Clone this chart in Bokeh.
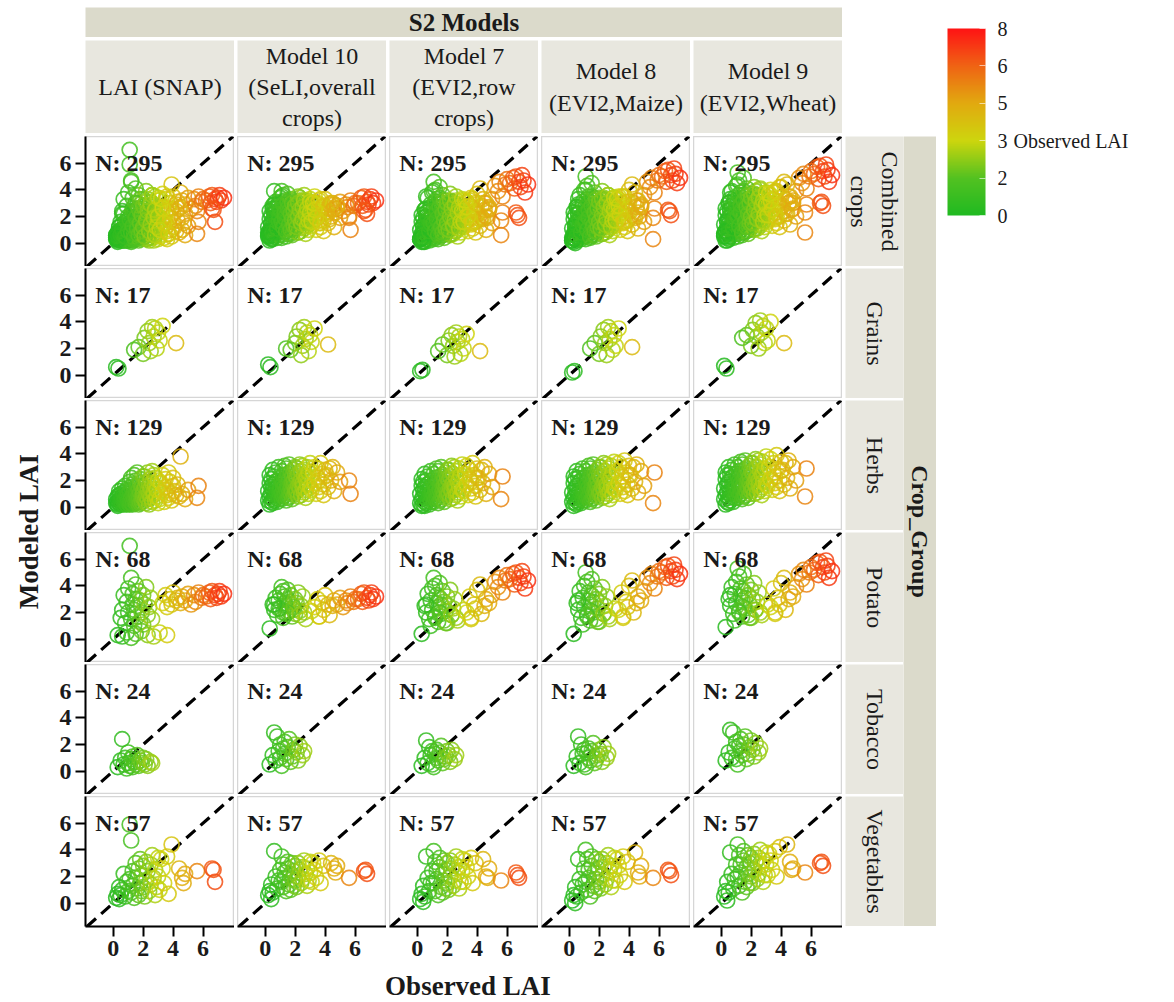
import numpy as np
from math import pi
from bokeh.plotting import figure
from bokeh.layouts import row, column
from bokeh.models import (Range1d, FixedTicker, Slope, ColumnDataSource, LinearColorMapper,
                          ColorBar, Spacer, PrintfTickFormatter)
from bokeh.transform import transform
from bokeh.core.properties import value
from bokeh.embed import file_html
from bokeh.resources import INLINE

# ---------------- data ----------------
model_titles = ["LAI (SNAP)", "Model 10\n(SeLI,overall\ncrops)", "Model 7\n(EVI2,row\ncrops)",
                "Model 8\n(EVI2,Maize)", "Model 9\n(EVI2,Wheat)"]
model_keys = ["snap", "m10", "m7", "m8", "m9"]
groups = ["Grains", "Herbs", "Potato", "Tobacco", "Vegetables"]
row_labels = ["Combined\ncrops", "Grains", "Herbs", "Potato", "Tobacco", "Vegetables"]
cbar_ticks = [0, 1.6, 3.2, 4.8, 6.4, 8]

# Grains (observed / modeled per model)
grains_obs = [0.2, 0.35, 1.4, 1.7, 2.0, 2.1, 2.3, 2.4, 2.5, 2.6, 2.7, 2.8, 2.9, 3.0, 3.1, 3.3, 4.2]
grains_snap = [0.6, 0.5, 1.9, 2.1, 1.6, 2.8, 3.3, 2.4, 1.8, 3.6, 2.9, 3.5, 2.0, 3.2, 2.6, 3.7, 2.4]
grains_m10 = [0.8, 0.6, 2.0, 1.9, 2.4, 2.9, 3.4, 1.5, 2.2, 3.6, 2.7, 3.2, 1.8, 3.0, 2.5, 3.5, 2.3]
grains_m7 = [0.3, 0.4, 1.8, 2.3, 1.5, 2.6, 3.0, 2.2, 1.4, 3.2, 2.5, 2.9, 1.6, 2.7, 2.0, 3.1, 1.8]
grains_m8 = [0.2, 0.3, 2.0, 2.4, 1.6, 2.9, 3.4, 2.4, 1.5, 3.6, 2.7, 3.3, 1.9, 3.0, 2.2, 3.5, 2.1]
grains_m9 = [0.7, 0.5, 2.8, 3.0, 2.2, 3.4, 3.9, 2.9, 2.0, 4.1, 3.2, 3.7, 2.4, 3.5, 2.6, 4.0, 2.4]

# Herbs
herbs_obs = [0.2, 0.2, 0.3, 0.3, 0.3, 0.3, 0.4, 0.4, 0.4, 0.4, 0.5, 0.5, 0.5, 0.5, 0.5, 0.6, 0.6, 0.6,
             0.6, 0.7, 0.7, 0.7, 0.7, 0.8, 0.8, 0.8, 0.8, 0.9, 0.9, 0.9, 0.9, 1.0, 1.0, 1.0, 1.0,
             1.1, 1.1, 1.1, 1.1, 1.2, 1.2, 1.2, 1.2, 1.3, 1.3, 1.3, 1.3, 1.4, 1.4, 1.4, 1.4,
             1.5, 1.5, 1.5, 1.5, 1.6, 1.6, 1.6, 1.6, 1.7, 1.7, 1.7, 1.7, 1.8, 1.8, 1.8, 1.8,
             1.9, 1.9, 1.9, 1.9, 2.0, 2.0, 2.0, 2.0,
             2.1, 2.1, 2.1, 2.2, 2.2, 2.2, 2.3, 2.3, 2.3, 2.4, 2.4, 2.4, 2.5, 2.5, 2.5, 2.6, 2.6, 2.6,
             2.7, 2.7, 2.7, 2.8, 2.8, 2.8, 2.9, 2.9, 3.0, 3.0,
             3.1, 3.2, 3.3, 3.3, 3.4, 3.5, 3.5, 3.6, 3.6, 3.7, 3.7, 3.8, 3.9, 3.9, 4.0, 4.0,
             4.1, 4.2, 4.3, 4.4, 4.5, 4.6, 4.8, 5.0, 5.6, 5.7]
herbs_snap = [0.3, 0.6, 0.1, 0.4, 0.8, 0.2, 0.5, 0.9, 0.3, 1.2, 0.4, 0.7, 0.2, 1.0, 0.5, 0.3, 0.8, 1.4,
              0.6, 0.2, 0.9, 0.4, 1.1, 0.5, 0.3, 0.7, 1.6, 0.4, 0.8, 0.2, 1.3, 0.6, 0.3, 1.0, 0.5,
              0.4, 1.2, 0.2, 1.9, 0.7, 1.5, 0.3, 2.2, 0.9, 0.5, 1.7, 0.2, 1.1, 2.4, 0.6, 1.4, 0.3,
              0.8, 2.0, 1.0, 0.4, 1.6, 0.7, 2.6, 0.2, 1.3, 0.9, 0.5, 1.8, 1.1, 0.3, 2.1, 0.6, 1.5,
              0.8, 0.4, 1.2, 2.3, 0.7, 1.0,
              0.5, 1.5, 2.3, 0.8, 1.9, 0.3, 1.2, 2.6, 0.6, 1.7, 0.2, 1.0, 2.1, 0.7, 1.4, 2.7, 0.4,
              1.8, 0.9, 2.4, 1.1, 0.5, 1.6, 2.2, 0.8, 1.3, 0.3, 2.0,
              0.6, 1.8, 1.1, 2.4, 0.4, 1.5, 2.1, 0.9, 1.3, 2.6, 0.7, 1.9, 1.0, 0.5, 1.6, 2.2,
              1.2, 0.9, 1.7, 0.8, 3.8, 1.0, 0.6, 1.3, 0.7, 1.6]
herbs_m10 = [0.5, 1.2, 0.2, 1.8, 0.8, 2.4, 0.4, 1.5, 1.0, 2.1, 0.6, 1.3, 2.8, 0.3, 1.7, 0.9, 2.3, 1.1,
             0.5, 1.9, 1.4, 0.7, 2.6, 1.0, 0.4, 1.6, 2.0, 0.8, 1.2, 3.0, 0.6, 1.5, 2.2, 0.9, 1.3,
             1.0, 2.0, 0.6, 2.7, 1.4, 1.8, 0.8, 2.4, 1.2, 3.1, 0.9, 1.6, 2.2, 0.5, 2.9, 1.3, 1.9,
             0.7, 2.5, 1.5, 1.1, 2.1, 0.8, 3.2, 1.7, 1.0, 2.6, 1.4, 0.6, 2.3, 1.8, 1.2, 2.8, 0.9,
             1.6, 2.0, 1.3, 3.0, 1.1, 2.4,
             1.2, 2.2, 2.9, 1.6, 0.8, 2.5, 1.9, 3.2, 1.4, 2.0, 0.9, 2.7, 1.5, 3.1, 1.8, 1.1, 2.4,
             2.8, 1.3, 2.1, 0.7, 1.7, 3.0, 2.3, 1.0, 2.6, 1.5, 3.3,
             1.3, 2.6, 1.8, 3.0, 1.0, 2.2, 2.9, 1.5, 2.0, 3.3, 1.2, 2.5, 1.7, 0.9, 2.3, 2.8,
             2.4, 1.5, 2.9, 2.0, 3.0, 1.2, 2.6, 1.9, 2.0, 1.0]
herbs_m7 = [0.3, 1.0, 0.1, 1.6, 0.6, 2.1, 0.2, 1.3, 0.8, 1.9, 0.4, 1.1, 2.5, 0.1, 1.5, 0.7, 2.0, 0.9,
            0.3, 1.7, 1.2, 0.5, 2.3, 0.8, 0.2, 1.4, 1.8, 0.6, 1.0, 2.7, 0.4, 1.3, 2.0, 0.7, 1.1,
            0.8, 1.8, 0.4, 2.5, 1.2, 1.6, 0.6, 2.2, 1.0, 2.9, 0.7, 1.4, 2.0, 0.3, 2.7, 1.1, 1.7,
            0.5, 2.3, 1.3, 0.9, 1.9, 0.6, 3.0, 1.5, 0.8, 2.4, 1.2, 0.4, 2.1, 1.6, 1.0, 2.6, 0.7,
            1.4, 1.8, 1.1, 2.8, 0.9, 2.2,
            1.0, 2.0, 2.8, 1.4, 0.6, 2.3, 1.7, 3.1, 1.2, 1.8, 0.7, 2.5, 1.3, 3.0, 1.6, 0.9, 2.2,
            2.7, 1.1, 1.9, 0.5, 1.5, 2.9, 2.1, 0.8, 2.4, 1.3, 3.2,
            1.2, 2.5, 1.7, 3.1, 0.9, 2.1, 2.8, 1.4, 1.9, 3.3, 1.1, 2.4, 1.6, 0.8, 2.2, 2.9,
            2.2, 1.3, 2.8, 1.8, 3.0, 1.0, 2.5, 1.5, 0.6, 2.3]
herbs_m8 = [0.4, 1.1, 0.1, 1.8, 0.7, 2.3, 0.3, 1.4, 0.9, 2.1, 0.5, 1.2, 2.7, 0.2, 1.6, 0.8, 2.2, 1.0,
            0.4, 1.9, 1.3, 0.6, 2.5, 0.9, 0.3, 1.5, 2.0, 0.7, 1.1, 2.9, 0.5, 1.4, 2.2, 0.8, 1.2,
            0.9, 2.0, 0.5, 2.7, 1.3, 1.7, 0.7, 2.4, 1.1, 3.1, 0.8, 1.5, 2.2, 0.4, 2.9, 1.2, 1.8,
            0.6, 2.5, 1.4, 1.0, 2.1, 0.7, 3.2, 1.6, 0.9, 2.6, 1.3, 0.5, 2.3, 1.7, 1.1, 2.8, 0.8,
            1.5, 2.0, 1.2, 3.0, 1.0, 2.4,
            1.1, 2.2, 3.0, 1.5, 0.7, 2.5, 1.8, 3.3, 1.3, 2.0, 0.8, 2.7, 1.4, 3.2, 1.7, 1.0, 2.4,
            2.9, 1.2, 2.1, 0.6, 1.6, 3.1, 2.3, 0.9, 2.6, 1.4, 3.4,
            1.3, 2.7, 1.8, 3.3, 1.0, 2.3, 3.0, 1.5, 2.0, 3.5, 1.2, 2.6, 1.7, 0.9, 2.4, 3.1,
            2.4, 1.4, 3.0, 1.9, 3.2, 1.1, 2.7, 1.6, 0.3, 2.6]
herbs_m9 = [0.6, 1.4, 0.2, 2.1, 0.9, 2.6, 0.4, 1.7, 1.1, 2.4, 0.7, 1.5, 3.0, 0.3, 1.9, 1.0, 2.5, 1.2,
            0.5, 2.2, 1.6, 0.8, 2.8, 1.1, 0.4, 1.8, 2.3, 0.9, 1.4, 3.2, 0.7, 1.7, 2.5, 1.0, 1.5,
            1.2, 2.3, 0.7, 3.0, 1.6, 2.0, 0.9, 2.7, 1.4, 3.4, 1.0, 1.8, 2.5, 0.6, 3.2, 1.5, 2.1,
            0.8, 2.8, 1.7, 1.3, 2.4, 0.9, 3.5, 1.9, 1.2, 2.9, 1.6, 0.7, 2.6, 2.0, 1.4, 3.1, 1.0,
            1.8, 2.3, 1.5, 3.3, 1.2, 2.7,
            1.4, 2.5, 3.3, 1.8, 1.0, 2.8, 2.1, 3.6, 1.6, 2.3, 1.1, 3.0, 1.7, 3.5, 2.0, 1.3, 2.7,
            3.2, 1.5, 2.4, 0.9, 1.9, 3.4, 2.6, 1.2, 2.9, 1.7, 3.8,
            1.6, 3.0, 2.1, 3.6, 1.3, 2.6, 3.3, 1.8, 2.3, 3.9, 1.5, 2.9, 2.0, 1.2, 2.7, 3.4,
            2.8, 1.7, 3.3, 2.2, 3.5, 1.4, 3.0, 2.0, 0.8, 2.9]

# Potato
potato_obs = [0.5, 0.6, 0.7, 0.8, 0.9, 1.0, 1.0, 1.1, 1.2, 1.2, 1.3, 1.3, 1.4, 1.4, 1.5, 1.5, 1.6, 1.6,
              1.7, 1.8, 1.8, 1.9, 2.0, 2.0, 2.1, 2.2, 2.3, 2.4, 2.5, 2.6,
              0.3, 0.6, 0.9, 1.2, 1.5, 1.9, 2.3, 2.7, 3.1, 3.6,
              3.3, 3.5, 3.6, 3.8, 3.9, 4.0, 4.2, 4.3, 4.5, 4.6,
              4.8, 5.0, 5.2, 5.4, 5.5, 5.7, 5.9, 6.0,
              6.2, 6.4, 6.5, 6.6, 6.8, 6.9, 7.0, 7.1, 7.2, 7.4]
potato_snap = [1.6, 2.2, 3.3, 1.2, 2.8, 3.8, 2.0, 7.0, 1.5, 4.6, 2.6, 3.4, 1.0, 2.2, 3.0, 4.1, 1.7, 2.5,
               3.6, 1.3, 2.9, 2.0, 3.3, 1.1, 2.6, 3.9, 1.8, 2.4, 3.1, 1.5,
               0.3, 0.2, 0.5, 0.1, 0.4, 0.6, 0.3, 0.2, 0.5, 0.3,
               2.7, 3.3, 2.4, 3.0, 2.6, 3.5, 2.9, 3.1, 2.7, 3.2,
               2.9, 3.4, 2.6, 3.3, 2.8, 3.5, 3.1, 3.3,
               3.2, 3.5, 3.0, 3.6, 3.3, 3.1, 3.4, 3.6, 3.2, 3.4]
potato_m10 = [2.6, 2.2, 3.1, 1.8, 2.9, 3.4, 2.3, 3.9, 2.0, 3.6, 2.7, 3.2, 1.9, 2.5, 3.0, 3.7, 2.1, 2.8,
              3.3, 1.7, 2.6, 2.2, 3.0, 1.9, 2.7, 3.5, 2.1, 2.5, 3.2, 2.0,
              0.8, 2.6, 2.3, 1.6, 2.0, 2.4, 1.8, 1.5, 2.1, 1.7,
              2.4, 3.0, 1.7, 2.7, 2.2, 3.3, 2.6, 1.8, 2.5, 2.9,
              2.6, 3.1, 2.4, 2.9, 2.7, 3.2, 2.8, 3.0,
              3.0, 3.4, 2.8, 3.5, 3.1, 2.9, 3.3, 3.5, 3.0, 3.2]
potato_m7 = [2.5, 2.0, 3.4, 1.5, 2.9, 3.8, 2.2, 4.6, 1.7, 4.0, 2.7, 3.3, 1.3, 2.4, 3.1, 4.2, 1.9, 2.6,
             3.6, 1.4, 2.8, 2.1, 3.2, 1.2, 2.5, 3.7, 1.8, 2.3, 3.0, 1.6,
             0.4, 2.6, 1.0, 1.6, 2.0, 1.2, 1.8, 1.4, 2.2, 1.5,
             2.0, 3.2, 1.6, 2.6, 2.3, 3.7, 4.1, 1.9, 2.5, 3.0,
             2.7, 3.3, 4.3, 3.9, 4.6, 3.5, 4.4, 4.8,
             4.5, 4.9, 4.1, 5.0, 4.6, 4.2, 5.1, 4.7, 3.8, 4.4]
potato_m8 = [2.7, 2.2, 3.6, 1.6, 3.1, 4.0, 2.4, 5.0, 1.8, 4.3, 2.9, 3.5, 1.4, 2.6, 3.3, 4.5, 2.0, 2.8,
             3.8, 1.5, 3.0, 2.3, 3.4, 1.3, 2.7, 3.9, 1.9, 2.5, 3.2, 1.7,
             0.4, 2.9, 1.1, 1.7, 2.1, 1.3, 1.9, 1.5, 2.3, 1.6,
             2.2, 3.5, 1.7, 2.8, 2.4, 4.0, 4.4, 2.0, 2.7, 3.2,
             2.9, 3.6, 4.6, 4.2, 4.9, 3.8, 4.7, 5.1,
             5.0, 5.4, 4.6, 5.5, 5.1, 4.7, 5.6, 5.2, 4.5, 4.9]
potato_m9 = [3.0, 2.5, 3.9, 1.9, 3.4, 4.3, 2.7, 5.3, 2.1, 4.7, 3.2, 3.8, 1.7, 2.9, 3.6, 4.9, 2.3, 3.1,
             4.1, 1.8, 3.3, 2.6, 3.7, 1.6, 3.0, 4.2, 2.2, 2.8, 3.5, 2.0,
             0.9, 3.3, 1.4, 2.0, 2.4, 1.6, 2.2, 1.8, 2.6, 1.9,
             2.4, 3.8, 2.0, 3.1, 2.6, 4.2, 4.6, 2.2, 3.0, 3.5,
             3.2, 3.9, 4.9, 4.5, 5.2, 4.1, 5.0, 5.4,
             5.2, 5.7, 4.8, 5.8, 5.4, 5.0, 5.9, 5.5, 4.6, 5.1]

# Tobacco
tobacco_obs = [0.3, 0.5, 0.6, 0.7, 0.8, 0.9, 1.0, 1.0, 1.1, 1.2, 1.3, 1.3, 1.4, 1.5, 1.6, 1.7, 1.8, 1.9,
               2.0, 2.1, 2.2, 2.3, 2.5, 2.6]
tobacco_snap = [0.3, 0.8, 2.4, 0.5, 1.0, 0.2, 0.6, 1.4, 0.4, 0.9, 0.3, 1.1, 0.7, 0.5, 1.2, 0.4, 0.8, 0.6,
                1.0, 0.5, 0.9, 0.4, 0.7, 0.6]
tobacco_m10 = [0.5, 1.2, 2.9, 0.8, 2.6, 1.5, 1.0, 2.0, 0.4, 1.7, 2.2, 1.3, 0.9, 1.8, 2.4, 0.7, 1.1, 1.6,
               2.0, 1.4, 0.8, 1.9, 1.2, 1.5]
tobacco_m7 = [0.4, 1.0, 2.3, 0.6, 1.8, 1.2, 0.5, 1.5, 0.3, 1.3, 1.6, 1.0, 0.8, 1.4, 1.9, 0.6, 0.9, 1.1,
              1.5, 1.2, 0.7, 1.6, 0.9, 1.2]
tobacco_m8 = [0.4, 1.1, 2.6, 0.6, 2.0, 1.3, 0.5, 1.6, 0.3, 1.4, 1.7, 1.0, 0.8, 1.5, 2.1, 0.6, 0.9, 1.2,
              1.6, 1.3, 0.7, 1.8, 1.0, 1.3]
tobacco_m9 = [0.8, 1.4, 3.1, 1.0, 2.9, 1.7, 0.9, 2.2, 0.5, 1.9, 2.4, 1.5, 1.2, 2.0, 2.6, 0.9, 1.3, 1.8,
              2.3, 1.6, 1.1, 2.1, 1.4, 1.7]

# Vegetables
veg_obs = [0.2, 0.3, 0.4, 0.4, 0.5, 0.6, 0.7, 0.8, 0.9, 1.0,
           1.1, 1.1, 1.2, 1.2, 1.3, 1.3, 1.4, 1.5, 1.5, 1.6, 1.7, 1.7, 1.8, 1.8, 1.9, 1.9, 2.0, 2.0,
           2.1, 2.2, 2.2, 2.3, 2.4, 2.5, 2.5, 2.6, 2.7, 2.8, 2.8, 2.9, 3.0, 3.0,
           3.1, 3.2, 3.3, 3.4, 3.6, 3.7, 3.9,
           4.4, 4.6, 4.7, 4.8, 5.6, 6.6, 6.8, 6.7]
veg_snap = [0.4, 0.7, 0.3, 1.2, 0.6, 1.0, 2.2, 0.5, 1.6, 0.9,
            5.9, 1.8, 4.7, 0.8, 2.4, 1.3, 0.4, 1.9, 3.0, 1.1, 2.6, 0.6, 1.5, 3.3, 0.9, 2.1, 1.2, 2.8,
            0.5, 1.7, 3.1, 2.4, 0.9, 1.4, 2.9, 3.6, 1.9, 0.6, 2.5, 1.2, 3.4, 2.0,
            1.0, 3.3, 2.6, 1.5, 3.5, 0.7, 4.4,
            2.6, 1.9, 1.5, 2.2, 2.4, 2.6, 1.6, 2.5]
veg_m10 = [0.6, 0.9, 0.3, 1.4, 0.8, 3.9, 2.0, 1.1, 1.7, 2.5,
           3.5, 1.6, 2.9, 1.2, 2.3, 1.9, 0.9, 2.6, 3.1, 1.4, 2.2, 1.0, 1.8, 3.0, 1.3, 2.4, 1.7, 2.8,
           1.2, 2.0, 3.0, 2.5, 1.5, 1.8, 2.7, 3.2, 2.2, 1.3, 2.6, 1.7, 3.1, 2.3,
           1.6, 3.0, 2.5, 1.9, 3.2, 1.5, 2.8,
           3.0, 2.6, 2.3, 2.8, 1.9, 2.4, 2.2, 2.5]
veg_m7 = [0.3, 0.7, 0.1, 1.3, 0.5, 3.5, 1.9, 0.9, 1.5, 2.4,
          3.9, 1.5, 3.1, 0.9, 2.4, 1.8, 0.6, 2.7, 3.4, 1.2, 2.2, 0.8, 1.7, 3.2, 1.1, 2.5, 1.5, 3.0,
          1.0, 2.0, 3.2, 2.6, 1.3, 1.7, 2.9, 3.5, 2.3, 1.1, 2.7, 1.6, 3.3, 2.4,
          1.6, 3.2, 2.7, 2.0, 3.4, 1.5, 3.0,
          3.3, 2.0, 1.9, 2.6, 1.7, 2.3, 1.9, 2.1]
veg_m8 = [0.2, 0.6, 0.0, 1.2, 0.5, 3.3, 1.8, 0.8, 1.4, 2.6,
          4.0, 1.6, 3.3, 1.0, 2.5, 1.9, 0.5, 2.8, 3.5, 1.3, 2.3, 0.9, 1.8, 3.3, 1.2, 2.6, 1.6, 3.1,
          1.1, 2.1, 3.3, 2.7, 1.4, 1.8, 3.0, 3.6, 2.4, 1.2, 2.8, 1.7, 3.4, 2.5,
          1.7, 3.3, 2.8, 2.1, 3.5, 1.6, 3.1,
          3.8, 2.3, 2.0, 2.8, 1.9, 2.5, 2.1, 2.4]
veg_m9 = [0.5, 0.9, 0.2, 1.6, 0.8, 3.8, 2.2, 1.1, 1.8, 2.9,
          4.4, 2.0, 3.6, 1.3, 2.9, 2.3, 0.8, 3.2, 3.9, 1.6, 2.7, 1.2, 2.2, 3.6, 1.5, 3.0, 2.0, 3.4,
          1.5, 2.5, 3.7, 3.1, 1.8, 2.2, 3.4, 4.0, 2.8, 1.6, 3.2, 2.1, 3.8, 2.9,
          2.1, 3.7, 3.2, 2.5, 3.9, 2.0, 4.2,
          4.4, 3.1, 2.5, 2.6, 2.3, 3.0, 2.8, 3.1]

obs = {"Grains": grains_obs, "Herbs": herbs_obs, "Potato": potato_obs,
       "Tobacco": tobacco_obs, "Vegetables": veg_obs}
modeled = {
    "Grains": {"snap": grains_snap, "m10": grains_m10, "m7": grains_m7, "m8": grains_m8, "m9": grains_m9},
    "Herbs": {"snap": herbs_snap, "m10": herbs_m10, "m7": herbs_m7, "m8": herbs_m8, "m9": herbs_m9},
    "Potato": {"snap": potato_snap, "m10": potato_m10, "m7": potato_m7, "m8": potato_m8, "m9": potato_m9},
    "Tobacco": {"snap": tobacco_snap, "m10": tobacco_m10, "m7": tobacco_m7, "m8": tobacco_m8, "m9": tobacco_m9},
    "Vegetables": {"snap": veg_snap, "m10": veg_m10, "m7": veg_m7, "m8": veg_m8, "m9": veg_m9},
}

# ---------------- styling ----------------
FONT = "Liberation Serif"
STRIP_LIGHT = "#e8e7df"
STRIP_DARK = "#dbdacb"
TXT = "#1a1a1a"
FW, FH = 149, 130
HGAP, VGAP = 3, 2
LEFT_AX, BOT_AX = 35, 42
TOP_H = 136

stops = [0, 1.6, 3.2, 4.8, 6.4, 8]
stop_rgb = [(32, 186, 34), (84, 194, 33), (206, 214, 14), (226, 170, 16), (240, 100, 20), (255, 20, 20)]
vals = np.linspace(0, 8, 256)
chan = [np.interp(vals, stops, [c[i] for c in stop_rgb]) for i in range(3)]
palette = ["#%02x%02x%02x" % (int(r), int(g), int(b)) for r, g, b in zip(*chan)]
mapper = LinearColorMapper(palette=palette, low=0, high=8)


def panel_fig(xs, ys, left, bottom):
    p = figure(frame_width=FW, frame_height=FH, x_range=Range1d(-1.85, 8.1), y_range=Range1d(-1.75, 8.0),
               output_backend="svg", toolbar_location=None,
               x_axis_location="below" if bottom else None, y_axis_location="left" if left else None,
               min_border=0, min_border_left=LEFT_AX if left else 0, min_border_bottom=BOT_AX if bottom else 0,
               background_fill_color="white", border_fill_color="white",
               outline_line_color="#d6d6d6", outline_line_width=1.5)
    p.xgrid.visible = False
    p.ygrid.visible = False
    for ax in p.axis:
        ax.ticker = FixedTicker(ticks=[0, 2, 4, 6])
        ax.major_label_text_font = FONT
        ax.major_label_text_font_style = "bold"
        ax.major_label_text_font_size = "24px"
        ax.major_label_text_color = TXT
        ax.major_tick_out = 10
        ax.major_tick_in = 0
        ax.major_tick_line_width = 2
        ax.minor_tick_line_color = None
        ax.axis_line_width = 2
        ax.major_label_standoff = 4
    p.add_layout(Slope(gradient=1, y_intercept=0, line_color="black", line_width=3.2,
                       line_dash="12 7", level="underlay"))
    src = ColumnDataSource(dict(x=xs, y=ys, obs=xs))
    p.scatter("x", "y", source=src, marker="circle", size=15, fill_color=None,
              line_color=transform("obs", mapper), line_width=1.7, line_alpha=0.85)
    p.text(x=[-1.2], y=[6.0], text=["N: %d" % len(xs)], text_font=value(FONT), text_font_style="bold",
           text_font_size="24px", text_baseline="middle", text_align="left", text_color=TXT)
    return p


def strip_fig(w, h, text, color, bold=False, angle=0.0, size="24px"):
    p = figure(width=w, height=h, x_range=Range1d(0, 1), y_range=Range1d(0, 1),
               x_axis_location=None, y_axis_location=None, toolbar_location=None,
               output_backend="svg", min_border=0, background_fill_color=color,
               border_fill_color=color, outline_line_color=None)
    p.xgrid.visible = False
    p.ygrid.visible = False
    p.text(x=[0.5], y=[0.5], text=[text], angle=angle, text_align="center", text_baseline="middle",
           text_font=value(FONT), text_font_size=size, text_font_style="bold" if bold else "normal",
           text_color=TXT, text_line_height=1.2)
    return p


def blank_fig(w, h):
    p = figure(width=w, height=h, x_range=Range1d(0, w), y_range=Range1d(h, 0),
               x_axis_location=None, y_axis_location=None, toolbar_location=None,
               output_backend="svg", min_border=0, outline_line_color=None,
               background_fill_color="white", border_fill_color="white")
    p.xgrid.visible = False
    p.ygrid.visible = False
    return p


# ---------------- panels ----------------
n_rows = len(row_labels)
grid_rows = []
for r in range(n_rows):
    figs = []
    for c, mk in enumerate(model_keys):
        if r == 0:
            xs = [v for g in groups for v in obs[g]]
            ys = [v for g in groups for v in modeled[g][mk]]
        else:
            g = groups[r - 1]
            xs, ys = obs[g], modeled[g][mk]
        figs.append(panel_fig(list(xs), list(ys), left=(c == 0), bottom=(r == n_rows - 1)))
    grid_rows.append(row(figs, spacing=HGAP))
panels = column(grid_rows, spacing=VGAP)

grid_h = n_rows * FH + (n_rows - 1) * VGAP
rowstrips = column([strip_fig(58, FH, rl, STRIP_LIGHT, angle=-pi / 2) for rl in row_labels], spacing=VGAP)
cg = strip_fig(33, grid_h, "Crop_Group", STRIP_DARK, bold=True, angle=-pi / 2)
middle = row(panels, Spacer(width=HGAP, height=10), rowstrips, cg)

strips_w = 5 * FW + 4 * HGAP
colstrips = row([strip_fig(FW, 93, t, STRIP_LIGHT) for t in model_titles], spacing=HGAP)
top = row(Spacer(width=LEFT_AX, height=TOP_H),
          column(Spacer(width=strips_w, height=7),
                 strip_fig(strips_w, 30, "S2 Models", STRIP_DARK, bold=True, size="25px"),
                 Spacer(width=strips_w, height=3), colstrips,
                 Spacer(width=strips_w, height=TOP_H - 7 - 30 - 3 - 93)))

main_w = LEFT_AX + strips_w + HGAP + 58 + 33
bottom_h = 1002 - TOP_H - (grid_h + BOT_AX)
xtitle = blank_fig(main_w, bottom_h)
xtitle.text(x=[LEFT_AX + strips_w / 2 + 4], y=[bottom_h / 2], text=["Observed LAI"], text_align="center",
            text_baseline="middle", text_font=value(FONT), text_font_style="bold", text_font_size="27px",
            text_color=TXT)

main = column(top, middle, xtitle)

ytitle = blank_fig(50, 1002)
ytitle.text(x=[28], y=[TOP_H + grid_h / 2], text=["Modeled LAI"], angle=pi / 2, text_align="center",
            text_baseline="middle", text_font=value(FONT), text_font_style="bold", text_font_size="27px",
            text_color=TXT)

leg_w = 1174 - 50 - main_w
legend = blank_fig(leg_w, 1002)
cb = ColorBar(color_mapper=mapper, location=(11, 1002 - 215), width=38, height=187, orientation="vertical",
              ticker=FixedTicker(ticks=cbar_ticks), formatter=PrintfTickFormatter(format="%.0f"),
              major_label_text_font=FONT, major_label_text_font_size="20px", major_label_text_color=TXT,
              label_standoff=12, padding=0, bar_line_color=None, border_line_color=None,
              background_fill_color=None, major_tick_line_color="white", major_tick_line_alpha=0.6,
              major_tick_in=6, major_tick_out=0, minor_tick_line_color=None)
legend.add_layout(cb)
legend.text(x=[77], y=[140], text=["Observed LAI"], text_align="left", text_baseline="middle",
            text_font=value(FONT), text_font_size="20px", text_color=TXT)

root = row(ytitle, main, legend)
open("out.html", "w").write(file_html(root, INLINE))
